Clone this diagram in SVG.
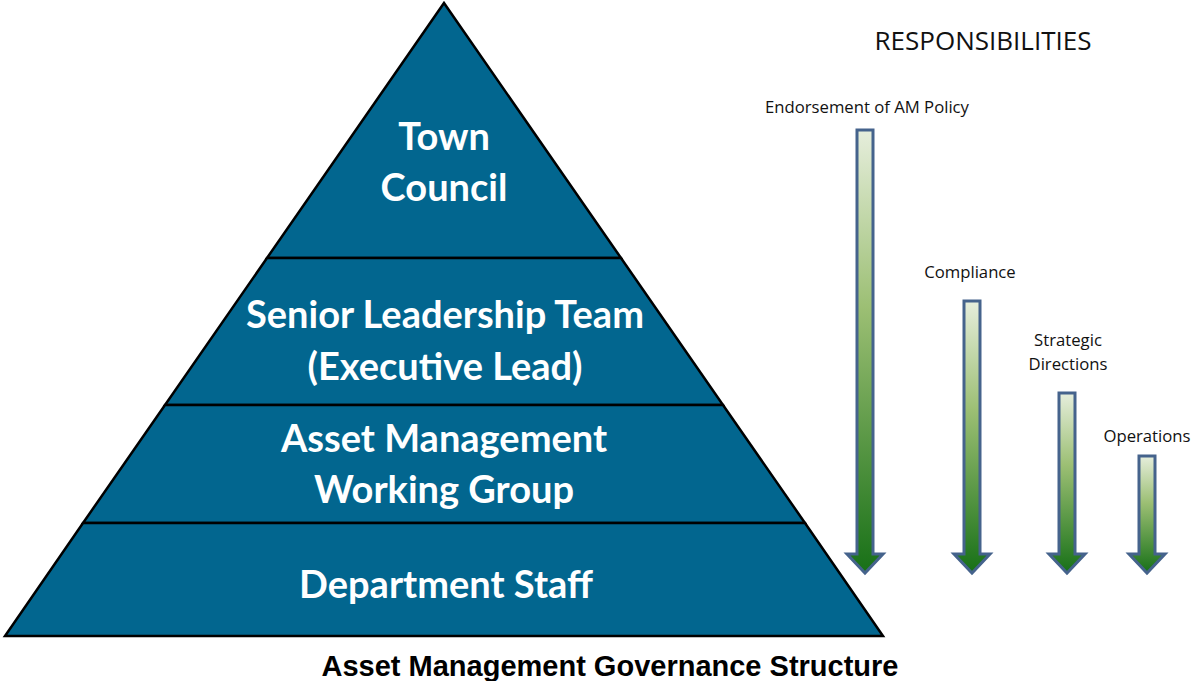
<svg xmlns="http://www.w3.org/2000/svg" width="1192" height="681" viewBox="0 0 1192 681">
<defs>
<linearGradient id="g" x1="0" y1="0" x2="0" y2="1">
<stop offset="0" stop-color="#e6eedc"/>
<stop offset="0.4" stop-color="#9cbf74"/>
<stop offset="1" stop-color="#177017"/>
</linearGradient>
</defs>
<style>
.tier{fill:#02668f;stroke:#000;stroke-width:2.5;stroke-linejoin:miter}
.pt{font-family:Lato,"Open Sans",sans-serif;font-weight:700;font-size:38px;fill:#fff;text-anchor:middle}
.lab{font-family:"Open Sans","Noto Sans",sans-serif;font-size:16.7px;fill:#111;text-anchor:middle}
.arr{fill:url(#g);stroke:#45638c;stroke-width:3;stroke-linejoin:miter}
</style>
<rect width="1192" height="681" fill="#fff"/>
<g id="pyramid">
<g id="tier-town-council">
<polygon class="tier" points="444,3 621,258 267,258"/>
<text class="pt" x="444" y="150">Town</text>
<text class="pt" x="444" y="201">Council</text>
</g>
<g id="tier-senior-leadership">
<polygon class="tier" points="267,258 621,258 723,405 165,405"/>
<text class="pt" x="445" y="328">Senior Leadership Team</text>
<text class="pt" x="445" y="380">(Executive Lead)</text>
</g>
<g id="tier-am-working-group">
<polygon class="tier" points="165,405 723,405 805,523 83,523"/>
<text class="pt" x="444" y="452">Asset Management</text>
<text class="pt" x="444" y="503">Working Group</text>
</g>
<g id="tier-department-staff">
<polygon class="tier" points="83,523 805,523 883,636 5,636"/>
<text class="pt" x="446" y="598">Department Staff</text>
</g>
</g>
<g id="responsibilities">
<text x="983" y="50" font-family="'Open Sans','Noto Sans',sans-serif" font-size="26" fill="#111" text-anchor="middle">RESPONSIBILITIES</text>
</g>
<g id="connectors">
<g id="arrow-endorsement">
<text class="lab" x="867" y="113">Endorsement of AM Policy</text>
<path class="arr" d="M857,130 H873 V554 H883 L865,573 L847,554 H857 Z"/>
</g>
<g id="arrow-compliance">
<text class="lab" x="970" y="278">Compliance</text>
<path class="arr" d="M964,301 H980 V554 H990 L972,573 L954,554 H964 Z"/>
</g>
<g id="arrow-strategic">
<text class="lab" x="1068" y="346">Strategic</text>
<text class="lab" x="1068" y="370">Directions</text>
<path class="arr" d="M1059,393 H1075 V554 H1085 L1067,573 L1049,554 H1059 Z"/>
</g>
<g id="arrow-operations">
<text class="lab" x="1147" y="442">Operations</text>
<path class="arr" d="M1139,456 H1155 V554 H1165 L1147,573 L1129,554 H1139 Z"/>
</g>
</g>
<g id="caption">
<text x="610" y="676" font-family="'Liberation Sans',Arial,sans-serif" font-weight="700" font-size="29" fill="#000" text-anchor="middle">Asset Management Governance Structure</text>
</g>
</svg>
